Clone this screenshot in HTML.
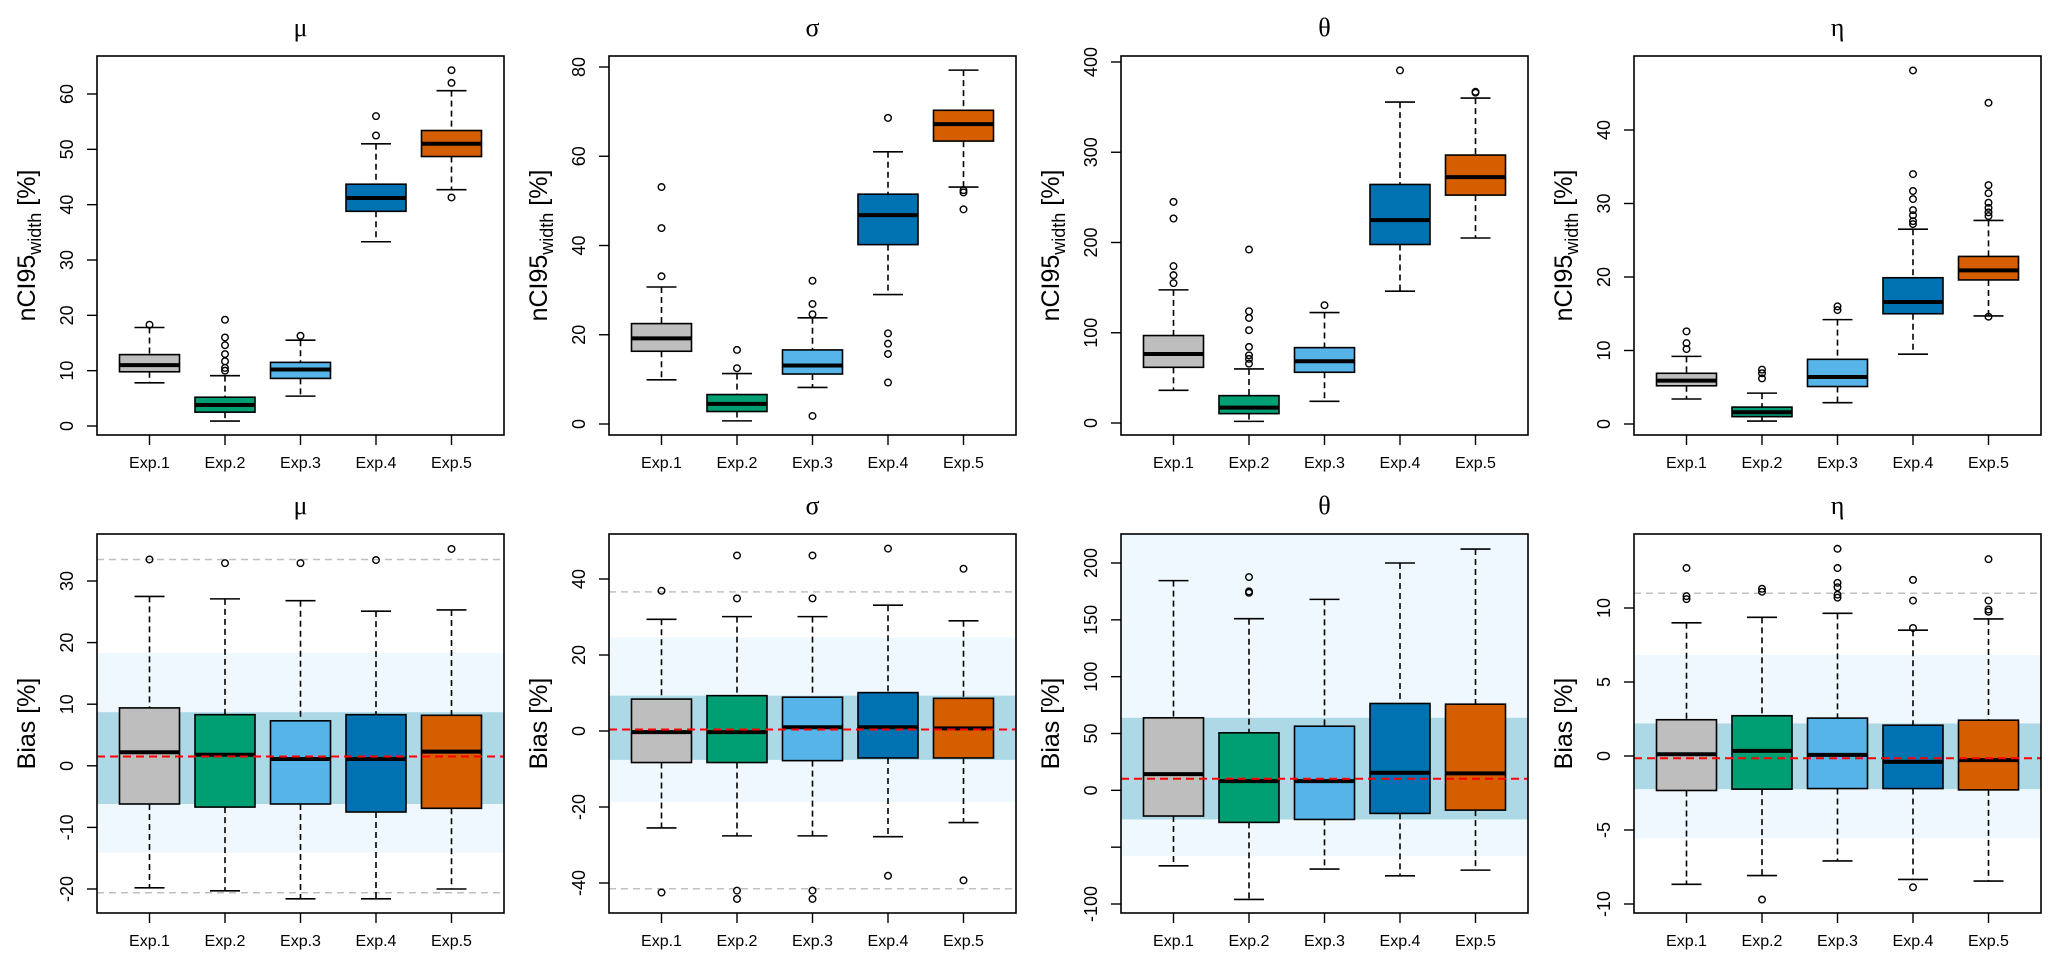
<!DOCTYPE html>
<html><head><meta charset="utf-8">
<style>
html,body{margin:0;padding:0;background:#fff;}
svg{display:block;font-family:"Liberation Sans",sans-serif;}
</style></head>
<body>
<svg id="chart" width="2067" height="968" viewBox="0 0 2067 968" xmlns="http://www.w3.org/2000/svg"></svg>
<script>
// ---- data ----
const categories = ["Exp.1","Exp.2","Exp.3","Exp.4","Exp.5"];
const colors = ["#bebebe","#009e73","#56b4e9","#0072b2","#d55e00"];
const titles = ["μ","σ","θ","η"];
// each box: [whiskerLow, q1, median, q3, whiskerHigh]
const widthMu = [[7.8,9.8,11,12.9,17.8],[0.9,2.5,3.8,5.2,9.1],[5.4,8.6,10.2,11.5,15.5],[33.3,38.8,41.2,43.7,51],[42.7,48.7,51,53.4,60.6]];
const widthMuOut = [[18.3],[10,10.5,11.7,13,14.6,16,19.2],[16.3],[52.5,56],[41.3,62,64.3]];
const widthSigma = [[9.9,16.3,19.2,22.5,30.7],[0.7,2.8,4.5,6.6,11.3],[8.2,11.2,13.1,16.6,23.8],[29,40.2,46.8,51.5,61],[53.1,63.4,67.2,70.3,79.3]];
const widthSigmaOut = [[33.1,43.9,53.1],[12.5,16.6],[1.8,24.6,26.9,32.1],[9.3,15.7,18,20.3,68.6],[48.1,51.9,52.4]];
const widthTheta = [[36.2,61.7,76.5,96.9,147.5],[1.8,10.4,17,30.3,59.9],[24,56.2,68.4,83.5,122.4],[146,197.8,224.8,264.3,355.6],[205,252.5,272.5,296.9,360]];
const widthThetaOut = [[155,163.8,173.8,226.6,245],[65.8,71,75,84.3,102.8,116.4,123.8,192.2],[130.5],[390.7],[366,367]];
const widthEta = [[3.4,5.2,5.9,6.9,9.2],[0.4,1,1.6,2.3,4.2],[2.9,5.1,6.4,8.8,14.2],[9.5,15,16.6,19.9,26.5],[14.7,19.6,20.9,22.8,27.7]];
const widthEtaOut = [[10.2,11,12.6],[6.2,6.9,7.4],[15.5,16],[27.2,27.6,28.4,29.1,30.6,31.7,34,48.1],[14.6,28.3,28.8,29.4,30.1,31.4,32.5,43.7]];
const biasMu = [[-19.8,-6.2,2.2,9.4,27.5],[-20.3,-6.7,1.8,8.3,27.1],[-21.6,-6.2,1.1,7.3,26.8],[-21.6,-7.5,1.1,8.3,25.1],[-20,-6.9,2.3,8.2,25.3]];
const biasMuOut = [[33.5],[32.9],[32.9],[33.4],[35.2]];
const biasSigma = [[-25.5,-8.3,-0.3,8.4,29.4],[-27.6,-8.3,-0.3,9.3,30.1],[-27.6,-7.8,1,8.9,30.1],[-27.8,-7.1,1,10.1,33.1],[-24.1,-7.1,0.7,8.6,29]];
const biasSigmaOut = [[36.9,-42.5],[46.2,34.9,-42,-44.2],[46.2,34.9,-42,-44.2],[48,-38.1],[42.7,-39.3]];
const biasTheta = [[-66.4,-22.6,14.3,63.8,184.5],[-96,-28.2,8.1,50.6,151],[-69.3,-25.6,8.1,56.4,168],[-75.2,-20.3,15.5,76.4,200],[-70.2,-17.4,14.9,75.8,212.3]];
const biasThetaOut = [[],[187.6,175,173.8],[],[],[]];
const biasEta = [[-8.67,-2.33,0.12,2.45,9],[-8.08,-2.24,0.35,2.72,9.37],[-7.09,-2.2,0.08,2.56,9.64],[-8.34,-2.2,-0.4,2.08,8.5],[-8.45,-2.29,-0.28,2.42,9.26]];
const biasEtaOut = [[12.7,10.8,10.6],[11.3,11.1,-9.7],[14,12.7,11.7,11.4,10.9,10.7],[11.9,10.5,8.65,-8.87],[13.3,10.5,9.9,9.75]];
// reference bands: [lightLow, lightHigh, darkLow, darkHigh, redLine, greyLow, greyHigh]
const bandsMu = [-14.1,18.3,-6.2,8.7,1.5,-20.6,33.5];
const bandsSigma = [-18.7,24.6,-7.6,9.3,0.4,-41.5,36.6];
const bandsTheta = [-57.9,300,-25.6,63.8,10.2,null,null];
const bandsEta = [-5.56,6.84,-2.24,2.2,-0.15,null,11];
const ticksWidthMu = [0,10,20,30,40,50,60];
const ticksWidthSigma = [0,20,40,60,80];
const ticksWidthTheta = [0,100,200,300,400];
const ticksWidthEta = [0,10,20,30,40];
const ticksBiasMu = [-20,-10,0,10,20,30];
const ticksBiasSigma = [-40,-20,0,20,40];
const ticksBiasTheta = [-100,-50,0,50,100,150,200];
const ticksBiasThetaLabels = ["-100","","0","50","100","150","200"];
const ticksBiasEta = [-10,-5,0,5,10];

// ---- layout ----
const NS = "http://www.w3.org/2000/svg";
const svg = document.getElementById("chart");
const lefts = [97,609,1121,1634];
const PW = 407;
function mk(tag, attrs, parent){
  const e = document.createElementNS(NS, tag);
  for (const k in attrs) e.setAttribute(k, attrs[k]);
  (parent||svg).appendChild(e);
  return e;
}
const panels = [
  {row:0,col:0,data:widthMu,out:widthMuOut,ticks:ticksWidthMu,ref:[0,426,60,94]},
  {row:0,col:1,data:widthSigma,out:widthSigmaOut,ticks:ticksWidthSigma,ref:[0,424,80,67]},
  {row:0,col:2,data:widthTheta,out:widthThetaOut,ticks:ticksWidthTheta,ref:[0,423,400,62]},
  {row:0,col:3,data:widthEta,out:widthEtaOut,ticks:ticksWidthEta,ref:[0,424,40,130]},
  {row:1,col:0,data:biasMu,out:biasMuOut,ticks:ticksBiasMu,ref:[30,581,-20,889],bands:bandsMu},
  {row:1,col:1,data:biasSigma,out:biasSigmaOut,ticks:ticksBiasSigma,ref:[40,579,-40,883],bands:bandsSigma},
  {row:1,col:2,data:biasTheta,out:biasThetaOut,ticks:ticksBiasTheta,labels:ticksBiasThetaLabels,ref:[200,563,-100,904],bands:bandsTheta},
  {row:1,col:3,data:biasEta,out:biasEtaOut,ticks:ticksBiasEta,ref:[10,608,-10,904],bands:bandsEta}
];

panels.forEach((p,pi)=>{
  const L = lefts[p.col];
  const T = p.row===0 ? 56 : 534;
  const B = p.row===0 ? 435 : 913;
  const [v0,p0,v1,p1] = p.ref;
  const y = v => p0 + (v - v0)*(p1-p0)/(v1-v0);
  const x = i => L + 52.5 + i*75.5;
  const g = mk("g",{});
  
  
  const clipId = "clip"+pi;
  const cp = mk("clipPath",{id:clipId},g);
  mk("rect",{x:L,y:T,width:PW,height:B-T},cp);
  const inner = mk("g",{"clip-path":"url(#"+clipId+")"},g);
  if (p.bands){
    const b = p.bands;
    const lb = mk("rect",{x:L,y:y(b[1]),width:PW,height:y(b[0])-y(b[1]),fill:"#f0f8ff"},inner);
    
    
    const db = mk("rect",{x:L,y:y(b[3]),width:PW,height:y(b[2])-y(b[3]),fill:"#add8e6"},inner);
    
    
    [b[5],b[6]].forEach(v=>{
      if (v===null) return;
      const gl = mk("line",{x1:L,x2:L+PW,y1:y(v),y2:y(v),stroke:"#c0c0c0","stroke-width":1.5,"stroke-dasharray":"7,5"},inner);
      
      
    });
  }
  p.data.forEach((d,i)=>{
    const cx = x(i);
    const bg = mk("g",{},inner);
    
    
    mk("line",{x1:cx,x2:cx,y1:y(d[4]),y2:y(d[3]),stroke:"#000","stroke-width":1.6,"stroke-dasharray":"6,4"},bg);
    mk("line",{x1:cx,x2:cx,y1:y(d[1]),y2:y(d[0]),stroke:"#000","stroke-width":1.6,"stroke-dasharray":"6,4"},bg);
    mk("line",{x1:cx-15,x2:cx+15,y1:y(d[4]),y2:y(d[4]),stroke:"#000","stroke-width":1.6},bg);
    mk("line",{x1:cx-15,x2:cx+15,y1:y(d[0]),y2:y(d[0]),stroke:"#000","stroke-width":1.6},bg);
    mk("rect",{x:cx-30,y:y(d[3]),width:60,height:y(d[1])-y(d[3]),fill:colors[i],stroke:"#000","stroke-width":1.6},bg);
    mk("line",{x1:cx-30,x2:cx+30,y1:y(d[2]),y2:y(d[2]),stroke:"#000","stroke-width":4},bg);
    p.out[i].forEach(o=>{
      const c = mk("circle",{cx:cx,cy:y(o),r:3.3,fill:"none",stroke:"#000","stroke-width":1.4},bg);
      
      
    });
  });
  if (p.bands){
    const rl = mk("line",{x1:L,x2:L+PW,y1:y(p.bands[4]),y2:y(p.bands[4]),stroke:"#ff0000","stroke-width":2,"stroke-dasharray":"8,5"},inner);
    
    
  }
  const frame = mk("rect",{x:L,y:T,width:PW,height:B-T,fill:"none",stroke:"#000","stroke-width":1.6},g);
  
  
  // y ticks
  p.ticks.forEach((t,k)=>{
    const ty = y(t);
    mk("line",{x1:L-10,x2:L,y1:ty,y2:ty,stroke:"#000","stroke-width":1.4},g);
    const lab = p.labels ? p.labels[k] : String(t);
    if (lab==="") return;
    const tx = mk("text",{x:L-24,y:ty,"font-size":18,"text-anchor":"middle",transform:"rotate(-90 "+(L-24)+" "+ty+")"},g);
    
    
    tx.textContent = lab;
  });
  // x ticks
  categories.forEach((c,i)=>{
    mk("line",{x1:x(i),x2:x(i),y1:B,y2:B+10,stroke:"#000","stroke-width":1.4},g);
    const tx = mk("text",{x:x(i),y:B+33,"font-size":16,"text-anchor":"middle"},g);
    
    
    tx.textContent = c;
  });
  // title
  const tt = mk("text",{x:L+PW/2,y:T-20,"font-size":26,"text-anchor":"middle","font-family":"Liberation Serif, serif"},g);
  
  
  tt.textContent = titles[p.col];
  // y axis title
  const ax = L-62, ay = (T+B)/2;
  const yt = mk("text",{x:ax,y:ay,"font-size":25,"text-anchor":"middle",transform:"rotate(-90 "+ax+" "+ay+")"},g);
  
  
  if (p.row===0){
    yt.appendChild(document.createTextNode("nCI95"));
    const s = mk("tspan",{"font-size":18,dy:6},yt);
    s.textContent = "width";
    const r = mk("tspan",{dy:-6},yt);
    r.textContent = " [%]";
  } else {
    yt.textContent = "Bias [%]";
  }
});
</script>
</body></html>
